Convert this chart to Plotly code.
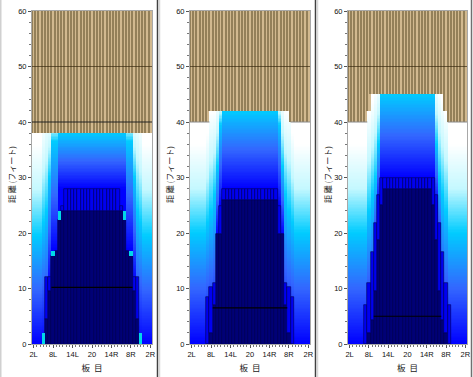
import numpy as np
import plotly.graph_objects as go

tick_labels = ["2L", "8L", "14L", "20", "14R", "8R", "2R"]
tick_boards = [0, 6, 12, 18, 24, 30, 36]
y_ticks = [0, 10, 20, 30, 40, 50, 60]
y_title = "距 離 (フィート)"
x_title = "板  目"
color_stops = [[0, "#0000ff"], [0.25, "#3366ff"], [0.5, "#00ccff"], [0.75, "#c4f8ff"], [1, "#ffffff"]]

# Left half of each profile: boards 2L .. 20 (the chart is mirrored about board 20)
p1_top   = [38]*19
p1_navy  = [0,0,0,0,4.5,9.5,15.9,16.8,22.4,24,24,24,24,24,24,24,24,24,24]
p1_band  = [0,0,0,0,12,12,0,0,0,24.8,28,28,28,28,28,28,28,28,28]
p1_start = [0,0,0,0,0,11,17,17,28,28,28,28,28,28,28,28,28,28,28]
p1_cyan  = [19.5,19.5,19.5,22,24,30,36.5,36.5,38,38,38,38,38,38,38,38,38,38,38]
p1_white = [36,36,36,40,42,41,41,41,48,48,48,48,48,48,48,48,48,48,48]
p1_spot_board = [3, 6, 8]
p1_spot_low   = [0, 15.9, 22.4]
p1_spot_high  = [1.9, 16.7, 24]
p1_line = [6, 30, 10.2]

p2_top   = [40,40,40,40,40,40,42,42,42,42,42,42,42,42,42,42,42,42,42]
p2_navy  = [0,0,0,0,0,0,2,7,19.8,19.8,26,26,26,26,26,26,26,26,26]
p2_band  = [0,0,0,0,0,8.5,10.3,11,0,24.9,28,28,28,28,28,28,28,28,28]
p2_start = [0,0,0,0,0,0,0,0,19.8,25,28,28,28,28,28,28,28,28,28]
p2_cyan  = [20,20,20,20,20,22,24,27,32,39.5,42,42,42,42,42,42,42,42,42]
p2_white = [36,36,36,36,36,38,42,42,44,44,52,52,52,52,52,52,52,52,52]
p2_spot_board, p2_spot_low, p2_spot_high = [], [], []
p2_line = [7, 29, 6.5]

p3_top   = [40,40,40,40,40,40,42,45,45,45,45,45,45,45,45,45,45,45,45]
p3_navy  = [0,0,0,0,0,0,2,4.3,9.6,18.7,25,28,28,28,28,28,28,28,28]
p3_band  = [0,0,0,0,0,7,11,16.6,21.8,26.9,30,30,30,30,30,30,30,30,30]
p3_start = [0,0,0,0,0,0,0,0,15,25,30,30,30,30,30,30,30,30,30]
p3_cyan  = [20,20,20,20,20,20,24,27,30,36,45,45,45,45,45,45,45,45,45]
p3_white = [36,36,36,36,36,36,42,44,46,47,56,56,56,56,56,56,56,56,56]
p3_spot_board, p3_spot_low, p3_spot_high = [], [], []
p3_line = [8, 28, 5]

grid_40_p1 = ([-0.5, 36.5], [40, 40])
grid_40_p2 = ([-0.5, 5.5, None, 30.5, 36.5], [40, 40, None, 40, 40])
grid_40_p3 = ([-0.5, 5.5, None, 30.5, 36.5], [40, 40, None, 40, 40])

panels = [
    (p1_top, p1_navy, p1_band, p1_start, p1_cyan, p1_white, p1_spot_board, p1_spot_low, p1_spot_high, p1_line, grid_40_p1, "#222222"),
    (p2_top, p2_navy, p2_band, p2_start, p2_cyan, p2_white, p2_spot_board, p2_spot_low, p2_spot_high, p2_line, grid_40_p2, "#8a8a8a"),
    (p3_top, p3_navy, p3_band, p3_start, p3_cyan, p3_white, p3_spot_board, p3_spot_low, p3_spot_high, p3_line, grid_40_p3, "#8a8a8a"),
]
spans = [(32, 152), (190, 310), (348, 467)]
title_x = [11, 169, 327]
W, H = 473, 377
PLOT_TOP, PLOT_BOTTOM = 11, 344


def full(half):
    return list(half) + list(half[-2::-1])


boards = list(range(37))
rows = np.arange(0.125, 60, 0.25)
fig = go.Figure()
FONT = "Liberation Sans, Arial, sans-serif"
CJK = "Noto Sans CJK JP"
notes = []

for k, (top, navy, band, start, cyan, white, sb, sl, sh, line, g40, g40c) in enumerate(panels):
    sfx = "" if k == 0 else str(k + 1)
    xa, ya = "x" + sfx, "y" + sfx
    top, navy, band = full(top), full(navy), full(band)
    start, cyan, white = full(start), full(cyan), full(white)

    z = np.column_stack([
        np.interp(rows, [start[i], cyan[i], white[i]], [0, 0.5, 1]) for i in boards
    ])
    fig.add_trace(go.Heatmap(x=boards, y=rows, z=z, zmin=0, zmax=1, colorscale=color_stops,
                             showscale=False, xaxis=xa, yaxis=ya, hoverinfo="skip"))

    bx = [i for i in boards if navy[i] > 0]
    fig.add_trace(go.Bar(x=bx, y=[navy[i] for i in bx], base=0, width=1, xaxis=xa, yaxis=ya,
                         marker=dict(color="#000076", line=dict(color="#00004a", width=0.6))))
    bx = [i for i in boards if band[i] > navy[i]]
    fig.add_trace(go.Bar(x=bx, y=[band[i] - navy[i] for i in bx], base=[navy[i] for i in bx], width=1,
                         xaxis=xa, yaxis=ya,
                         marker=dict(color="#0000f0", line=dict(color="#000058", width=0.6))))
    if sb:
        sx = list(sb) + [36 - b for b in sb]
        lo = list(sl) * 2
        hi = list(sh) * 2
        fig.add_trace(go.Bar(x=sx, y=[h - l for h, l in zip(hi, lo)], base=lo, width=1, xaxis=xa, yaxis=ya,
                             marker=dict(color="#00d8e8", line=dict(width=0))))
    # striped earth: a tan bar and a narrower dark bar on each board, without outlines
    fig.add_trace(go.Bar(x=boards, y=[60 - t for t in top], base=top, width=1, xaxis=xa, yaxis=ya,
                         marker=dict(color="#d2b98f", line=dict(width=0))))
    fig.add_trace(go.Bar(x=boards, y=[60 - t for t in top], base=top, width=0.36, offset=-0.68, xaxis=xa, yaxis=ya,
                         marker=dict(color="#948059", line=dict(width=0))))
    fig.add_trace(go.Scatter(x=[line[0] - 0.5, line[1] + 0.5], y=[line[2], line[2]], mode="lines",
                             xaxis=xa, yaxis=ya, line=dict(color="#000000", width=1.2)))
    fig.add_trace(go.Scatter(x=[-0.5, 36.5], y=[50, 50], mode="lines", xaxis=xa, yaxis=ya,
                             line=dict(color="rgba(50,35,10,0.65)", width=1)))
    fig.add_trace(go.Scatter(x=g40[0], y=g40[1], mode="lines", xaxis=xa, yaxis=ya,
                             line=dict(color=g40c, width=1), connectgaps=False))

    x0, x1 = spans[k]
    fig.update_layout(**{
        "xaxis" + sfx: dict(
            domain=[x0 / W, x1 / W], range=[-0.5, 36.5], anchor=ya, tickmode="array",
            tickvals=tick_boards, ticktext=tick_labels, ticks="outside", ticklen=3, tickwidth=1,
            tickcolor="#555555", showgrid=False, zeroline=False, showline=True, mirror=True,
            linecolor="#a8a8a8", linewidth=1, automargin=False,
            minor=dict(tick0=0, dtick=1, ticks="outside", ticklen=2, tickcolor="#777777"),
            tickfont=dict(family=FONT, size=7.5, color="#111111"),
            title=dict(text=x_title, font=dict(family=CJK, size=8.5, color="#222222"), standoff=7),
        ),
        "yaxis" + sfx: dict(
            domain=[1 - PLOT_BOTTOM / H, 1 - PLOT_TOP / H], range=[0, 60], anchor=xa, tickmode="array",
            tickvals=y_ticks, ticks="outside", ticklen=3, tickwidth=1, tickcolor="#555555",
            showgrid=False, zeroline=False, showline=True, mirror=True, linecolor="#a8a8a8", linewidth=1,
            automargin=False,
            minor=dict(tick0=0, dtick=2, ticks="outside", ticklen=2, tickcolor="#777777"),
            tickfont=dict(family=FONT, size=7.5, color="#111111"),
        ),
    })
    notes.append(dict(text=y_title, xref="paper", yref="paper", x=title_x[k] / W, y=1 - 175 / H,
                      xanchor="center", yanchor="middle", textangle=-90, showarrow=False,
                      font=dict(family=CJK, size=8, color="#222222")))

frame = []
for x, c, w in [(0.5, "#d0d0d0", 2), (157.5, "#404040", 1.5), (159.5, "#d8d8d8", 1.5), (315.5, "#404040", 1.5),
                (317.5, "#d8d8d8", 1.5), (471.5, "#707070", 1.5)]:
    frame.append(dict(type="line", xref="paper", yref="paper", x0=x / W, x1=x / W, y0=0, y1=1,
                      line=dict(color=c, width=w)))

fig.update_layout(width=W, height=H, margin=dict(l=0, r=0, t=0, b=0, autoexpand=False), paper_bgcolor="white",
                  plot_bgcolor="white", barmode="overlay", bargap=0, showlegend=False, shapes=frame, annotations=notes)
fig.write_html("out.html", post_script="document.body.style.margin='0';", config={"displayModeBar": False})
